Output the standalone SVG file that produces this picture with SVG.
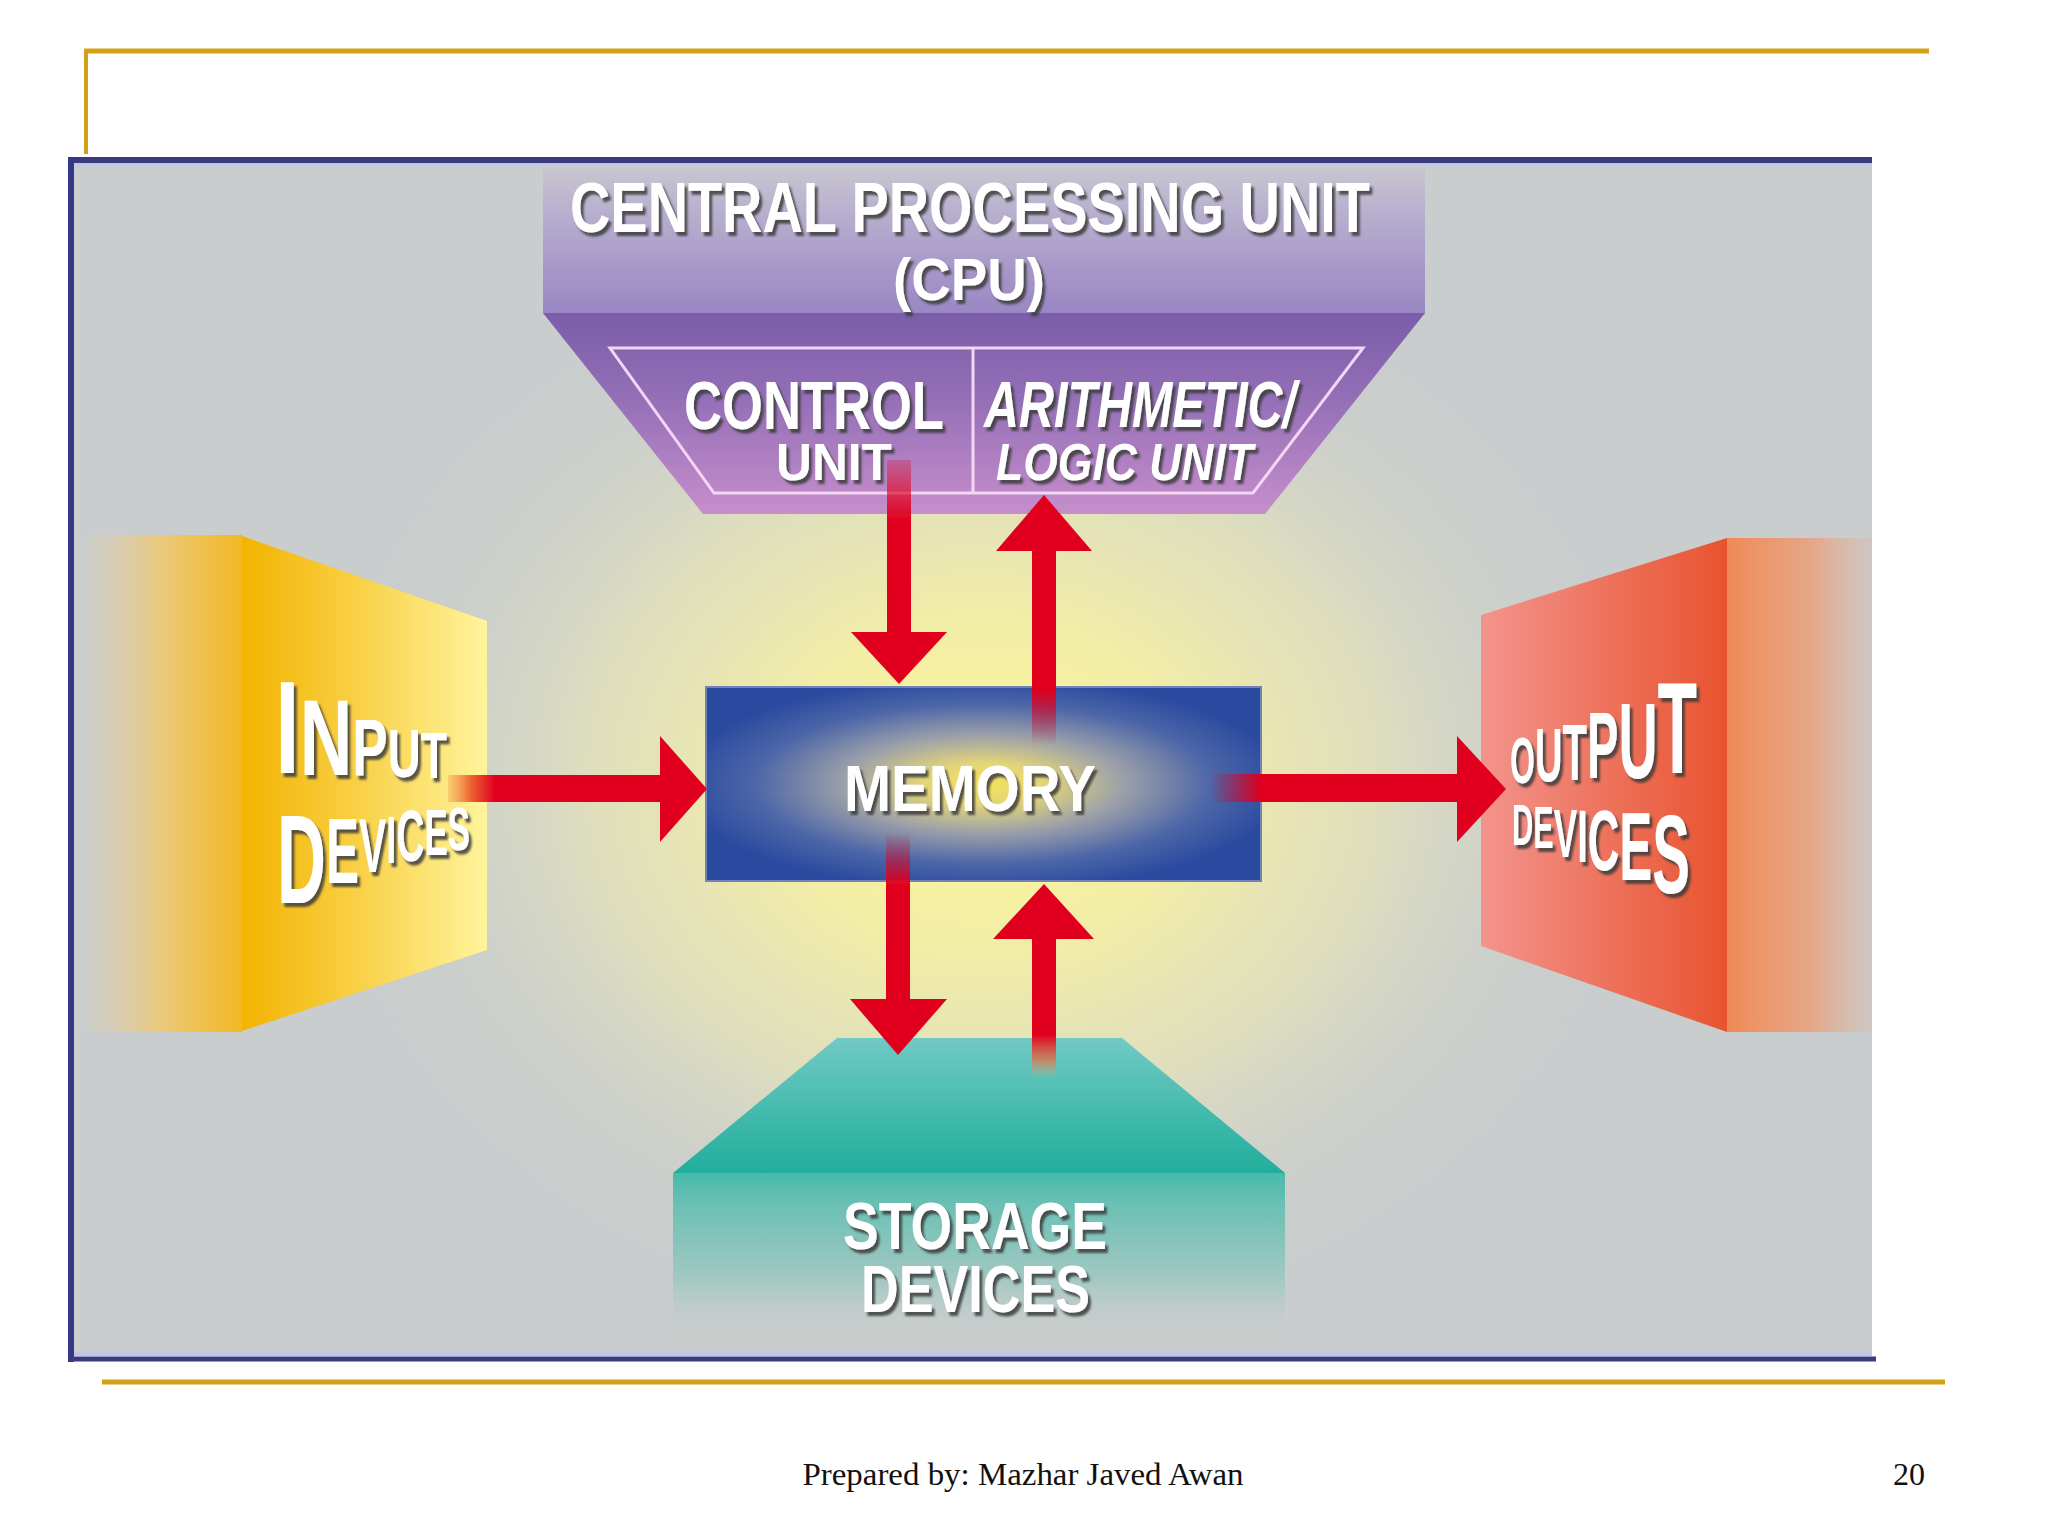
<svg xmlns="http://www.w3.org/2000/svg" width="2048" height="1536" viewBox="0 0 2048 1536">
  <defs>
    <style>
      .lbl { font-family: "Liberation Sans", "DejaVu Sans", Arial, sans-serif; font-weight: bold; fill: #ffffff; filter: url(#shadow); }
      .ital { font-style: italic; }
      .red { fill: #e0001e; }
      .gold { stroke: #d3a115; fill: none; }
      .foot { font-family: "Liberation Serif", "Times New Roman", serif; fill: #111111; }
    </style>
    <filter id="shadow" x="-10%" y="-20%" width="130%" height="150%">
      <feDropShadow dx="3" dy="4" stdDeviation="1.2" flood-color="#3c3c3c" flood-opacity="0.85"/>
    </filter>
    <radialGradient id="glow" gradientUnits="userSpaceOnUse" cx="983" cy="785" r="660" gradientTransform="translate(983 785) scale(1 0.82) translate(-983 -785)">
      <stop offset="0" stop-color="#fcf59a"/>
      <stop offset="0.3" stop-color="#f3eea6"/>
      <stop offset="0.6" stop-color="#e2e1bb" stop-opacity="0.85"/>
      <stop offset="1" stop-color="#c9cdcd" stop-opacity="0"/>
    </radialGradient>
    <radialGradient id="memGrad" cx="0.5" cy="0.5" r="0.55">
      <stop offset="0" stop-color="#f6e35a"/>
      <stop offset="0.2" stop-color="#e2d47a"/>
      <stop offset="0.45" stop-color="#9ea2a8"/>
      <stop offset="0.75" stop-color="#4d66a8"/>
      <stop offset="1" stop-color="#2a4a9f"/>
    </radialGradient>
    <linearGradient id="cpuTop" x1="0" y1="0" x2="0" y2="1">
      <stop offset="0" stop-color="#c8c6d0"/>
      <stop offset="0.3" stop-color="#b8b0ce"/>
      <stop offset="0.7" stop-color="#a797c8"/>
      <stop offset="1" stop-color="#9a86c4"/>
    </linearGradient>
    <linearGradient id="cpuTrap" x1="0" y1="0" x2="0" y2="1">
      <stop offset="0" stop-color="#7b5ca8"/>
      <stop offset="0.4" stop-color="#926eb6"/>
      <stop offset="1" stop-color="#c68ecb"/>
    </linearGradient>
    <linearGradient id="inFront" x1="0" y1="0" x2="1" y2="0">
      <stop offset="0" stop-color="#f3b300"/>
      <stop offset="0.5" stop-color="#f9d24a"/>
      <stop offset="1" stop-color="#fff49c"/>
    </linearGradient>
    <linearGradient id="inSide" x1="0" y1="0" x2="1" y2="0">
      <stop offset="0" stop-color="#e2cfa8" stop-opacity="0.15"/>
      <stop offset="0.5" stop-color="#ecc878"/>
      <stop offset="1" stop-color="#f2b724"/>
    </linearGradient>
    <linearGradient id="outFront" x1="0" y1="0" x2="1" y2="0">
      <stop offset="0" stop-color="#f3948c"/>
      <stop offset="1" stop-color="#e8532f"/>
    </linearGradient>
    <linearGradient id="outSide" x1="0" y1="0" x2="1" y2="0">
      <stop offset="0" stop-color="#f08a56"/>
      <stop offset="0.6" stop-color="#e4a88a"/>
      <stop offset="1" stop-color="#d2c2ba" stop-opacity="0.6"/>
    </linearGradient>
    <linearGradient id="stoTop" x1="0" y1="0" x2="0" y2="1">
      <stop offset="0" stop-color="#72c9c6"/>
      <stop offset="0.6" stop-color="#3fb9ab"/>
      <stop offset="1" stop-color="#22ae9c"/>
    </linearGradient>
    <linearGradient id="stoFront" x1="0" y1="0" x2="0" y2="1">
      <stop offset="0" stop-color="#47baac"/>
      <stop offset="0.2" stop-color="#6cc0b4"/>
      <stop offset="0.65" stop-color="#a2c8c2"/>
      <stop offset="1" stop-color="#c9cdcd" stop-opacity="0.2"/>
    </linearGradient>
    <linearGradient id="fadeDownTop" gradientUnits="userSpaceOnUse" x1="0" y1="460" x2="0" y2="520">
      <stop offset="0" stop-color="#e0001e" stop-opacity="0.25"/>
      <stop offset="1" stop-color="#e0001e"/>
    </linearGradient>
    <linearGradient id="fadeUpTop" gradientUnits="userSpaceOnUse" x1="0" y1="690" x2="0" y2="745">
      <stop offset="0" stop-color="#e0001e"/>
      <stop offset="1" stop-color="#e0001e" stop-opacity="0"/>
    </linearGradient>
    <linearGradient id="fadeDownBot" gradientUnits="userSpaceOnUse" x1="0" y1="832" x2="0" y2="885">
      <stop offset="0" stop-color="#e0001e" stop-opacity="0"/>
      <stop offset="1" stop-color="#e0001e"/>
    </linearGradient>
    <linearGradient id="fadeUpBot" gradientUnits="userSpaceOnUse" x1="0" y1="1035" x2="0" y2="1078">
      <stop offset="0" stop-color="#e0001e"/>
      <stop offset="0.6" stop-color="#e87040" stop-opacity="0.7"/>
      <stop offset="1" stop-color="#e8a060" stop-opacity="0"/>
    </linearGradient>
    <linearGradient id="fadeIn" gradientUnits="userSpaceOnUse" x1="448" y1="0" x2="495" y2="0">
      <stop offset="0" stop-color="#f08a40" stop-opacity="0.3"/>
      <stop offset="0.5" stop-color="#ec6030"/>
      <stop offset="1" stop-color="#e0001e"/>
    </linearGradient>
    <linearGradient id="fadeOut" gradientUnits="userSpaceOnUse" x1="1210" y1="0" x2="1262" y2="0">
      <stop offset="0" stop-color="#e0001e" stop-opacity="0"/>
      <stop offset="1" stop-color="#e0001e"/>
    </linearGradient>
  </defs>

  <rect x="0" y="0" width="2048" height="1536" fill="#ffffff"/>

  <g id="slide-frame">
    <line class="gold" x1="84" y1="51" x2="1929" y2="51" stroke-width="5"/>
    <line class="gold" x1="86" y1="49" x2="86" y2="154" stroke-width="4"/>
    <line class="gold" x1="102" y1="1382" x2="1945" y2="1382" stroke-width="5"/>
  </g>

  <g id="picture-frame">
    <rect x="72" y="162" width="1800" height="1194" fill="#c9cdcd"/>
    <rect x="72" y="162" width="1800" height="1194" fill="url(#glow)"/>
    <line x1="68" y1="160" x2="1872" y2="160" stroke="#383b7e" stroke-width="6"/>
    <line x1="74" y1="164" x2="1872" y2="164" stroke="#c4c4ea" stroke-width="2"/>
    <line x1="71" y1="157" x2="71" y2="1362" stroke="#343a8a" stroke-width="6"/>
    <line x1="74" y1="1354" x2="1872" y2="1354" stroke="#c4c4ea" stroke-width="3"/>
    <line x1="68" y1="1359" x2="1876" y2="1359" stroke="#383b7e" stroke-width="5"/>
  </g>

  <g id="cpu">
    <rect x="543" y="168" width="882" height="146" fill="url(#cpuTop)"/>
    <polygon points="543,313 1425,313 1265,514 703,514" fill="url(#cpuTrap)"/>
    <polygon points="610,348 1363,348 1253,493 714,493" fill="none" stroke="#f4d6f4" stroke-width="3"/>
    <line x1="973" y1="348" x2="973" y2="493" stroke="#f4d6f4" stroke-width="3"/>
    <text class="lbl" x="570" y="232" font-size="70" textLength="800" lengthAdjust="spacingAndGlyphs">CENTRAL PROCESSING UNIT</text>
    <text class="lbl" x="893" y="300" font-size="60" textLength="152" lengthAdjust="spacingAndGlyphs">(CPU)</text>
    <text class="lbl" x="684" y="429" font-size="68" textLength="260" lengthAdjust="spacingAndGlyphs">CONTROL</text>
    <text class="lbl" x="776" y="480" font-size="52" textLength="116" lengthAdjust="spacingAndGlyphs">UNIT</text>
    <text class="lbl ital" x="984" y="427" font-size="64" textLength="312" lengthAdjust="spacingAndGlyphs">ARITHMETIC/</text>
    <text class="lbl ital" x="996" y="480" font-size="52" textLength="257" lengthAdjust="spacingAndGlyphs">LOGIC UNIT</text>
  </g>

  <g id="input-devices">
    <rect x="85" y="535" width="157" height="497" fill="url(#inSide)"/>
    <polygon points="242,536 487,621 487,950 242,1031" fill="url(#inFront)"/>
    <text class="lbl" x="275" y="773 775 775 777 778" textLength="172" lengthAdjust="spacingAndGlyphs"><tspan font-size="132">I</tspan><tspan font-size="108">N</tspan><tspan font-size="79">P</tspan><tspan font-size="68">U</tspan><tspan font-size="64">T</tspan></text>
    <text class="lbl" x="277" y="903 883 872 863 861 855 850" textLength="193" lengthAdjust="spacingAndGlyphs"><tspan font-size="126">D</tspan><tspan font-size="92">E</tspan><tspan font-size="76">V</tspan><tspan font-size="67">I</tspan><tspan font-size="72">C</tspan><tspan font-size="65">E</tspan><tspan font-size="62">S</tspan></text>
  </g>

  <g id="output-devices">
    <rect x="1727" y="538" width="145" height="494" fill="url(#outSide)"/>
    <polygon points="1481,615 1727,538 1727,1032 1481,946" fill="url(#outFront)"/>
    <text class="lbl" x="1510" y="783 781 780 778 778 773" textLength="187" lengthAdjust="spacingAndGlyphs"><tspan font-size="64">O</tspan><tspan font-size="76">U</tspan><tspan font-size="80">T</tspan><tspan font-size="94">P</tspan><tspan font-size="108">U</tspan><tspan font-size="129">T</tspan></text>
    <text class="lbl" x="1512" y="845 848 857 862 870 880 893" textLength="178" lengthAdjust="spacingAndGlyphs"><tspan font-size="58">D</tspan><tspan font-size="60">E</tspan><tspan font-size="69">V</tspan><tspan font-size="75">I</tspan><tspan font-size="86">C</tspan><tspan font-size="97">E</tspan><tspan font-size="111">S</tspan></text>
  </g>

  <g id="storage-devices">
    <polygon points="837,1038 1122,1038 1285,1173 673,1173" fill="url(#stoTop)"/>
    <rect x="673" y="1173" width="612" height="162" fill="url(#stoFront)"/>
    <text class="lbl" x="843" y="1249" font-size="66" textLength="264" lengthAdjust="spacingAndGlyphs">STORAGE</text>
    <text class="lbl" x="861" y="1312" font-size="66" textLength="229" lengthAdjust="spacingAndGlyphs">DEVICES</text>
  </g>

  <g id="memory">
    <rect x="706" y="687" width="555" height="194" fill="url(#memGrad)" stroke="#7084b8" stroke-width="2"/>
    <text class="lbl" x="844" y="811" font-size="64" textLength="252" lengthAdjust="spacingAndGlyphs">MEMORY</text>
  </g>

  <g id="connectors">
    <!-- control unit to memory -->
    <rect x="887" y="460" width="24" height="174" fill="url(#fadeDownTop)"/>
    <polygon class="red" points="851,632 947,632 899,684"/>
    <!-- memory to ALU -->
    <rect x="1032" y="548" width="24" height="198" fill="url(#fadeUpTop)"/>
    <polygon class="red" points="996,551 1092,551 1044,495"/>
    <!-- memory to storage -->
    <rect x="886" y="832" width="24" height="169" fill="url(#fadeDownBot)"/>
    <polygon class="red" points="850,999 947,999 898,1055"/>
    <!-- storage to memory -->
    <rect x="1032" y="936" width="24" height="142" fill="url(#fadeUpBot)"/>
    <polygon class="red" points="993,939 1094,939 1044,884"/>
    <!-- input to memory -->
    <rect x="448" y="775" width="214" height="27" fill="url(#fadeIn)"/>
    <polygon class="red" points="660,736 660,842 707,789"/>
    <!-- memory to output -->
    <rect x="1210" y="774" width="249" height="28" fill="url(#fadeOut)"/>
    <polygon class="red" points="1457,736 1457,842 1506,789"/>
  </g>

  <g id="footer">
    <text class="foot" x="1023" y="1485" font-size="32" text-anchor="middle" textLength="441" lengthAdjust="spacingAndGlyphs">Prepared by: Mazhar Javed Awan</text>
    <text class="foot" x="1893" y="1485" font-size="32">20</text>
  </g>
</svg>
